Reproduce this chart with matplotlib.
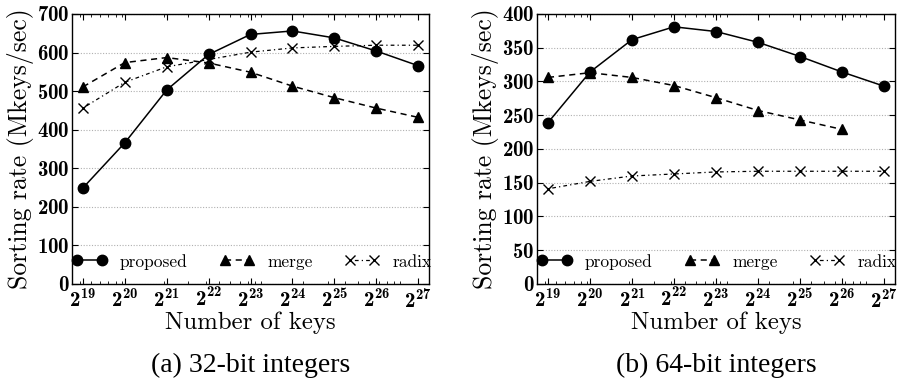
import numpy as np
import matplotlib
matplotlib.use('Agg')
import matplotlib.pyplot as plt
from matplotlib.ticker import FixedLocator, LogLocator, NullFormatter

plt.rcParams['mathtext.fontset'] = 'custom'
plt.rcParams['mathtext.rm'] = 'cmb10'
plt.rcParams['mathtext.it'] = 'cmb10'
plt.rcParams['mathtext.bf'] = 'cmb10'
plt.rcParams['font.family'] = ['cmr10', 'DejaVu Serif']
plt.rcParams['axes.formatter.use_mathtext'] = True

exponents = [19, 20, 21, 22, 23, 24, 25, 26, 27]
tick_labels = [r'$\mathbf{2^{%d}}$' % e for e in exponents]

# (a) 32-bit integers
proposed_32 = [249, 366, 503, 595, 647, 656, 638, 604, 566]
merge_32 = [511, 574, 587, 573, 549, 513, 483, 456, 432]
radix_32 = [456, 523, 563, 582, 601, 612, 616, 619, 619]

# (b) 64-bit integers
proposed_64 = [239, 314, 362, 381, 374, 358, 337, 314, 293]
merge_64 = [306, 313, 306, 294, 276, 257, 243, 229]
radix_64 = [141, 152, 160, 163, 166, 167, 167, 167, 167]

panels = [
    ('(a) 32-bit integers', proposed_32, merge_32, radix_32, 700, 100),
    ('(b) 64-bit integers', proposed_64, merge_64, radix_64, 400, 50),
]
axes_rect = [[0.080, 0.2546, 0.3967, 0.7087], [0.5967, 0.2546, 0.3978, 0.7087]]

fig = plt.figure(figsize=(9, 3.81), dpi=100)

for (caption, prop, merg, rad, ymax, ystep), rect in zip(panels, axes_rect):
    ax = fig.add_axes(rect)
    xs = [2.0 ** e for e in exponents]
    ax.plot(xs, prop, color='black', linestyle='-', linewidth=1.1,
            marker='o', markersize=7.5, label='proposed')
    ax.plot(xs[:len(merg)], merg, color='black', linestyle=(0, (4, 3)), linewidth=1.1,
            marker='^', markersize=7.5, label='merge')
    ax.plot(xs, rad, color='black', linestyle=(0, (1, 2.5, 3, 2.5)), linewidth=0.9,
            marker='x', markersize=7.5, markeredgewidth=1.0, label='radix')

    ax.set_xscale('log', base=2)
    ax.set_xlim(2.0 ** 18.74, 2.0 ** 27.26)
    ax.xaxis.set_major_locator(FixedLocator(xs))
    ax.set_xticklabels(tick_labels)
    ax.xaxis.set_minor_locator(LogLocator(base=10, subs=np.arange(1, 10)))
    ax.xaxis.set_minor_formatter(NullFormatter())

    ax.set_ylim(0, ymax)
    yt = np.arange(0, ymax + 1, ystep)
    ax.set_yticks(yt)
    ax.set_yticklabels([r'$\mathbf{%d}$' % v for v in yt])
    ax.yaxis.grid(True, linestyle=(0, (1, 1.5)), color='#b0b0b0', linewidth=0.8)
    ax.set_axisbelow(True)

    ax.tick_params(which='both', direction='in', top=True, right=True)
    ax.tick_params(which='major', length=4, width=0.8, labelsize=15, pad=3)
    ax.tick_params(axis='y', labelsize=15, pad=2)
    ax.tick_params(which='minor', length=2, width=0.6)
    for s in ax.spines.values():
        s.set_linewidth(1.0)

    ax.set_xlabel('Number of keys', fontsize=17.8, labelpad=0)
    ax.set_ylabel('Sorting rate (Mkeys/sec)', fontsize=18.5, labelpad=2)

    ax.legend(loc='center left', bbox_to_anchor=(0.0, 0.083), ncol=3, frameon=False,
              fontsize=12.5, handlelength=2.0, handletextpad=0.75,
              columnspacing=1.85, borderpad=0, borderaxespad=0, numpoints=2)

    fig.text(rect[0] + rect[2] / 2, 0.042, caption, ha='center', va='center',
             fontsize=20, family='Liberation Serif')

fig.savefig('out.png', dpi=100)
